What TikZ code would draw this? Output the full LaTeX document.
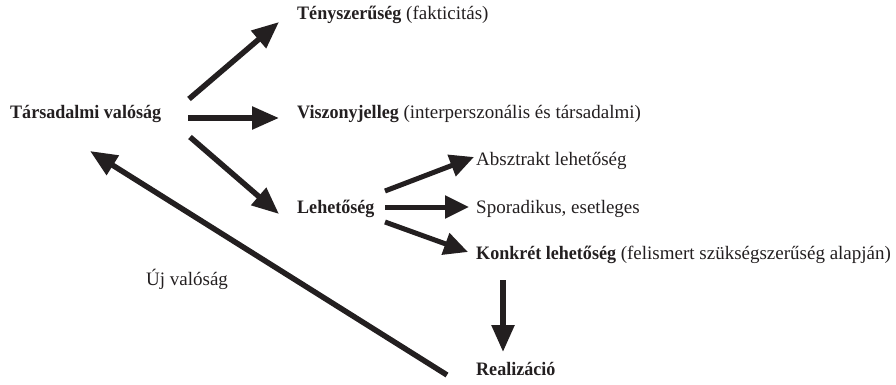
\documentclass[tikz,border=0pt]{standalone}
\usepackage{fontspec}
\setmainfont{Liberation Serif}[BoldFeatures={FakeStretch=0.95}]
\usetikzlibrary{arrows.meta}
\definecolor{ink}{HTML}{231F20}
\tikzset{
  lbl/.style={anchor=base west, inner sep=0pt, font=\fontsize{19}{22}\selectfont, text=ink},
  bigarrow/.style={draw=ink, line width=5.5pt, -{Triangle[length=27pt,width=22pt]}},
  smallarrow/.style={draw=ink, line width=5pt, -{Triangle[length=24pt,width=22pt]}},
}
\begin{document}
\begin{tikzpicture}[x=1pt,y=-1pt]
\useasboundingbox (0,0) rectangle (896,385);
\node[lbl] (tars) at (10,118) {\textbf{Társadalmi valóság}};
\node[lbl] (teny) at (297,20) {\textbf{Tényszerűség} (fakticitás)};
\node[lbl] (visz) at (297,118) {\textbf{Viszonyjelleg} (interperszonális és társadalmi)};
\node[lbl] (lehet) at (297,213) {\textbf{Lehetőség}};
\node[lbl] (abs) at (476,165) {Absztrakt lehetőség};
\node[lbl] (spor) at (476,213) {Sporadikus, esetleges};
\node[lbl] (konk) at (476,259) {\textbf{Konkrét lehetőség} (felismert szükségszerűség alapján)};
\node[lbl] (real) at (476,375) {\textbf{Realizáció}};
\node[lbl] (uj) at (146,285) {Új valóság};
% arrow end points
\coordinate (a1s) at (189,99);  \coordinate (a1e) at (279,22);
\coordinate (a2s) at (188,118); \coordinate (a2e) at (279,118);
\coordinate (a3s) at (190,137); \coordinate (a3e) at (279,214);
\coordinate (b1s) at (385,191); \coordinate (b1e) at (474,157);
\coordinate (b2s) at (385,207); \coordinate (b2e) at (469,207);
\coordinate (b3s) at (385,222); \coordinate (b3e) at (468,252);
\coordinate (cs) at (503,280);  \coordinate (ce) at (503,352);
\coordinate (rs) at (447,375);  \coordinate (re) at (90,151);
\draw[bigarrow] (a1s) -- (a1e);
\draw[bigarrow] (a2s) -- (a2e);
\draw[bigarrow] (a3s) -- (a3e);
\draw[smallarrow] (b1s) -- (b1e);
\draw[smallarrow] (b2s) -- (b2e);
\draw[smallarrow] (b3s) -- (b3e);
\draw[bigarrow] (cs) -- (ce);
\draw[bigarrow] (rs) -- (re);
\end{tikzpicture}
\end{document}
